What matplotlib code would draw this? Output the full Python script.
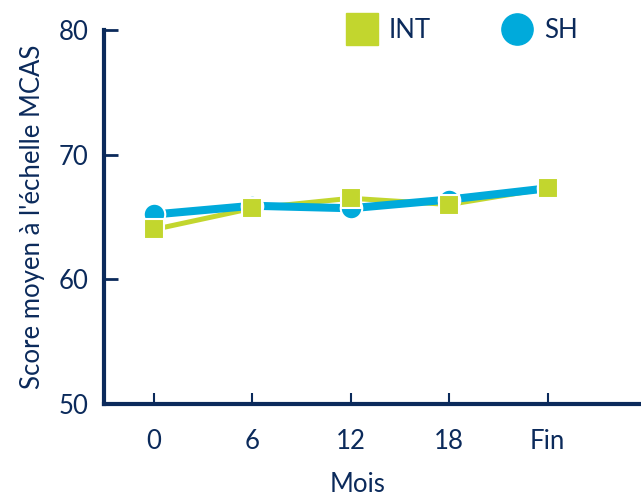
import matplotlib
matplotlib.use("Agg")
import matplotlib.pyplot as plt
from matplotlib.lines import Line2D

plt.rcParams['font.family'] = ['Lato', 'DejaVu Sans']

# Mean MCAS-scale score by month
months = ['0', '6', '12', '18', 'Fin']
int_scores = [64.0, 65.7, 66.5, 66.0, 67.3]
sh_scores = [65.2, 65.9, 65.7, 66.4, 67.3]

navy = '#0B2A5B'
green = '#C2D62E'
blue = '#00AADB'
fs = 18.5

fig = plt.figure(figsize=(6.41, 4.98), dpi=100)
ax = fig.add_axes([0.1622, 0.1888, 0.8378, 0.7510])

x = list(range(len(months)))

# lines first, markers on top (INT squares over SH circles)
ax.plot(x, int_scores, color=green, lw=3.6, zorder=2, solid_capstyle='butt')
ax.plot(x, sh_scores, color=blue, lw=5.8, zorder=3, solid_capstyle='butt')
ax.plot(x, sh_scores, ls='none', marker='o', ms=15.5, mfc=blue, mec='white',
        mew=1.5, zorder=4)
ax.plot(x, int_scores, ls='none', marker='s', ms=14.5, mfc=green, mec='white',
        mew=1.5, zorder=5)

ax.set_xlim(-0.51, 4.95)
ax.set_ylim(50, 80)
ax.set_yticks([50, 60, 70, 80])
ax.set_xticks(x)
ax.set_xticklabels(months)

for side in ('top', 'right'):
    ax.spines[side].set_visible(False)
for side in ('left', 'bottom'):
    ax.spines[side].set_color(navy)
    ax.spines[side].set_linewidth(3)
    ax.spines[side].set_capstyle('projecting')

ax.tick_params(axis='y', direction='in', length=10, width=2, color=navy,
               labelcolor=navy, labelsize=fs, pad=11)
ax.tick_params(axis='x', direction='in', length=8, width=1.5, color=navy,
               labelcolor=navy, labelsize=fs, pad=18)

ax.set_xlabel('Mois', fontsize=fs, color=navy)
ax.xaxis.set_label_coords(0.473, -0.182)
ax.set_ylabel("Score moyen à l'échelle MCAS", fontsize=fs, color=navy,
              labelpad=10)

handles = [
    Line2D([], [], ls='none', marker='s', ms=23, mfc=green, mec=green),
    Line2D([], [], ls='none', marker='o', ms=22.5, mfc=blue, mec=blue),
]
fig.legend(handles, ['INT', 'SH'], loc='center left',
           bbox_to_anchor=(0.538, 0.938), ncol=2, frameon=False,
           fontsize=fs, labelcolor=navy, handlelength=1.3,
           handletextpad=0.4, columnspacing=2.7, borderpad=0,
           borderaxespad=0)

fig.savefig('out.png', dpi=100)
